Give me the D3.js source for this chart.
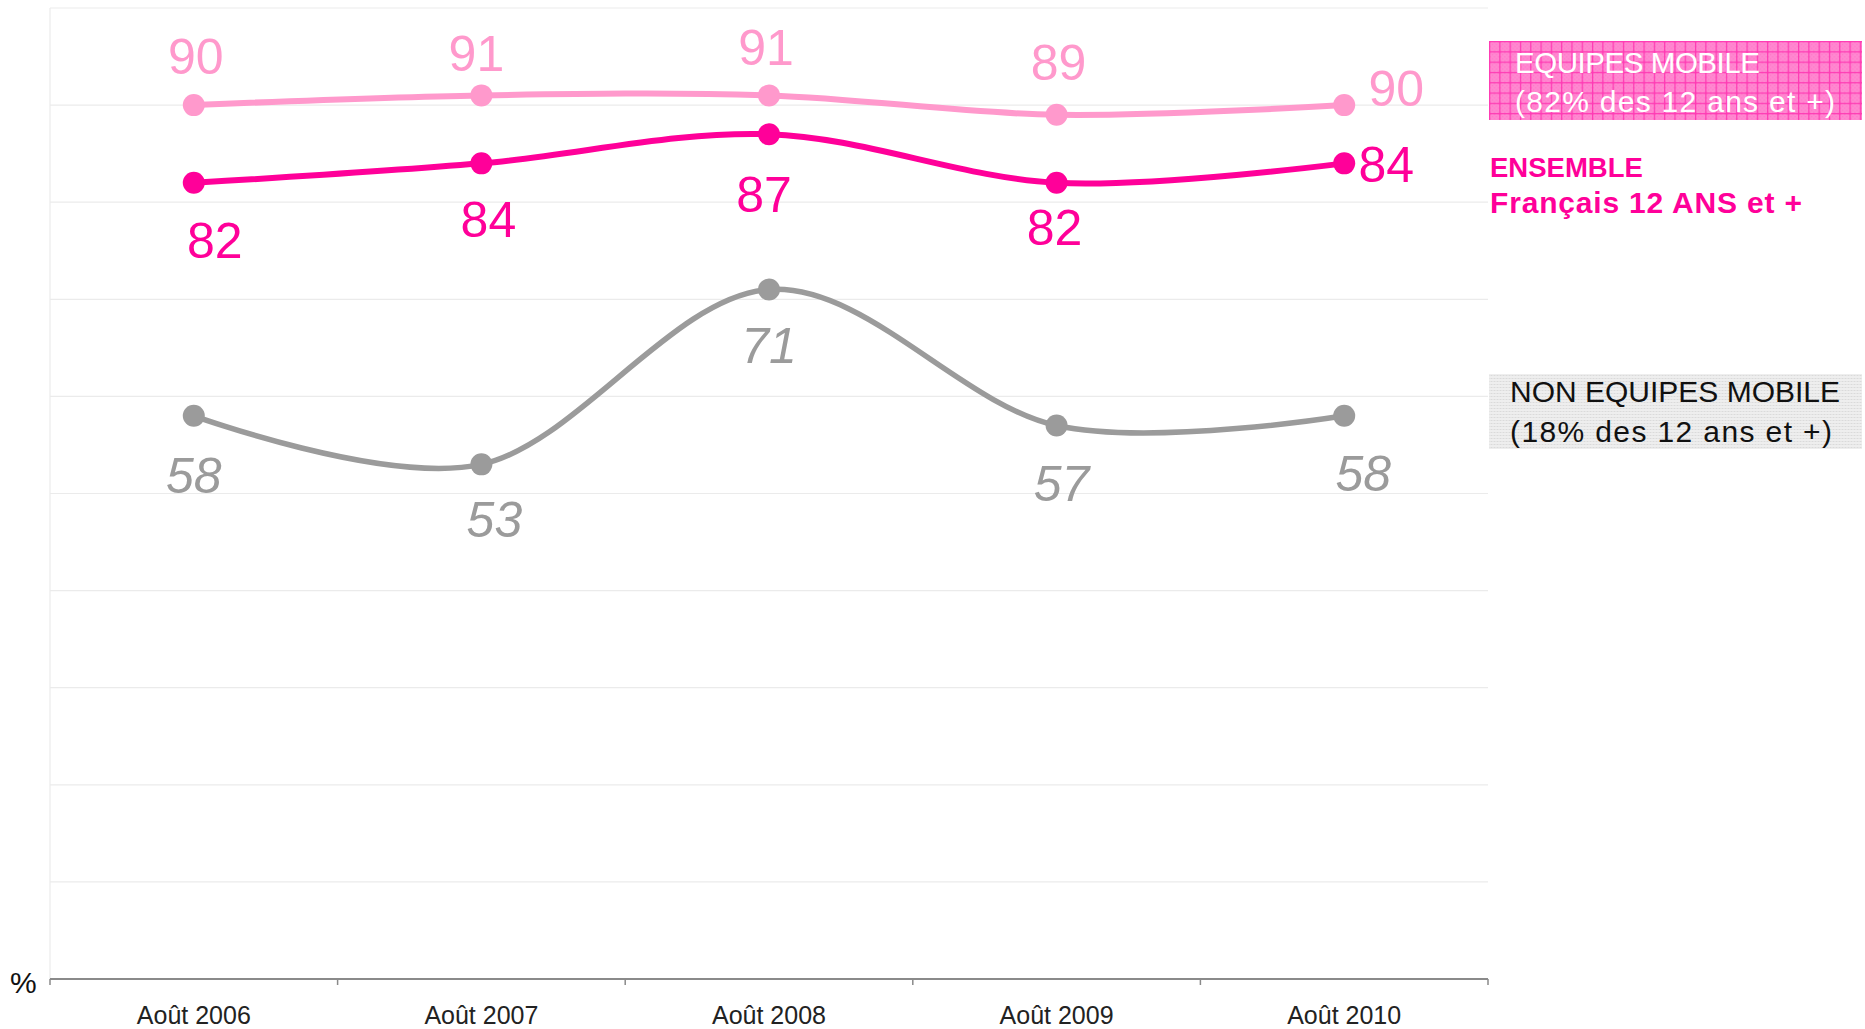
<!DOCTYPE html>
<html>
<head>
<meta charset="utf-8">
<script src="https://cdn.jsdelivr.net/npm/d3@7"></script>
<style>
  html, body { margin: 0; padding: 0; background: #fff; }
  svg { display: block; }
  text { font-family: "Liberation Sans", Arial, sans-serif; }
</style>
</head>
<body>
<svg id="chart" width="1865" height="1029"></svg>
<script>
// ---- Data ----
const categories = ["Août 2006", "Août 2007", "Août 2008", "Août 2009", "Août 2010"];
const equipesMobile = [90, 91, 91, 89, 90];
const ensemble = [82, 84, 87, 82, 84];
const nonEquipes = [58, 53, 71, 57, 58];
const yTicks = [0, 10, 20, 30, 40, 50, 60, 70, 80, 90, 100];

// ---- Label placement (style: offsets from each point) ----
const equipesLabelOffsets = [[2, -31], [-5, -24], [-3, -30], [2, -35], [52, 1]];
const ensembleLabelOffsets = [[21, 75], [7, 74], [-5, 78], [-2, 62], [42, 19]];
const nonLabelOffsets = [[0, 77], [13, 73], [0, 73], [5, 75], [19, 75]];

const svg = d3.select("#chart");
const margin = { left: 50, right: 377, top: 8, bottom: 50 };
const W = 1865, H = 1029;
const x0 = margin.left, x1 = W - margin.right; // 50 .. 1488
const yTop = margin.top, yBot = 979;

const x = d3.scaleBand().domain(categories).range([x0, x1]).paddingInner(0).paddingOuter(0);
const xc = c => x(c) + x.bandwidth() / 2;
const y = d3.scaleLinear().domain([0, 100]).range([yBot, yTop]);

// ---- Patterns for legend boxes ----
const defs = svg.append("defs");
const pp = defs.append("pattern").attr("id", "pinkGrid").attr("patternUnits", "userSpaceOnUse")
  .attr("width", 10.3).attr("height", 10.3).attr("x", 1489).attr("y", 41);
pp.append("rect").attr("width", 10.3).attr("height", 10.3).attr("fill", "#ff88d0");
for (let i = 0; i < 5; i++) for (let j = 0; j < 5; j++) {
  if ((i + j) % 2 === 0) pp.append("rect").attr("x", 1 + i * 2).attr("y", 1 + j * 2).attr("width", 1).attr("height", 1).attr("fill", "#ff6cc4");
}
pp.append("rect").attr("x", 0).attr("y", 0).attr("width", 10.3).attr("height", 1.2).attr("fill", "#ff3ab4");
pp.append("rect").attr("x", 0).attr("y", 0).attr("width", 1.2).attr("height", 10.3).attr("fill", "#ff3ab4");

const gp = defs.append("pattern").attr("id", "grayDots").attr("patternUnits", "userSpaceOnUse")
  .attr("width", 3).attr("height", 3);
gp.append("rect").attr("width", 3).attr("height", 3).attr("fill", "#eeeeee");
gp.append("rect").attr("x", 0).attr("y", 0).attr("width", 1).attr("height", 1).attr("fill", "#d2d2d2");
gp.append("rect").attr("x", 0).attr("y", 0).attr("width", 3).attr("height", 0.6).attr("fill", "#e0e0e0");

// ---- Gridlines ----
svg.append("g").selectAll("line").data(yTicks.filter(d => d > 0)).join("line")
  .attr("x1", x0).attr("x2", x1)
  .attr("y1", d => y(d)).attr("y2", d => y(d))
  .attr("stroke", "#ebebeb").attr("stroke-width", 1.2);
// left border
svg.append("line").attr("x1", x0).attr("x2", x0).attr("y1", yTop).attr("y2", yBot)
  .attr("stroke", "#ebebeb").attr("stroke-width", 1.2);

// ---- X axis ----
const axisG = svg.append("g");
axisG.append("line").attr("x1", x0).attr("x2", x1).attr("y1", yBot).attr("y2", yBot)
  .attr("stroke", "#8a8a8a").attr("stroke-width", 2.2);
const boundaries = categories.map(c => x(c)).concat([x(categories[categories.length - 1]) + x.bandwidth()]);
axisG.selectAll("line.tick").data(boundaries).join("line").attr("class", "tick")
  .attr("x1", d => d).attr("x2", d => d).attr("y1", yBot).attr("y2", yBot + 6)
  .attr("stroke", "#8a8a8a").attr("stroke-width", 1.5);
axisG.selectAll("text.lbl").data(categories).join("text").attr("class", "lbl")
  .attr("x", d => xc(d)).attr("y", 1024)
  .attr("text-anchor", "middle").attr("font-size", 25).attr("fill", "#222")
  .text(d => d);
svg.append("text").attr("x", 10).attr("y", 993).attr("font-size", 30).attr("fill", "#111").text("%");

// ---- Series ----
const series = [
  { values: nonEquipes, color: "#9b9b9b", width: 5.5, offsets: nonLabelOffsets, italic: true },
  { values: equipesMobile, color: "#ff99cc", width: 6, offsets: equipesLabelOffsets, italic: false },
  { values: ensemble, color: "#ff0099", width: 6, offsets: ensembleLabelOffsets, italic: false }
];

const line = d3.line().x((d, i) => xc(categories[i])).y(d => y(d)).curve(d3.curveCardinal.tension(0));

series.forEach(s => {
  const g = svg.append("g");
  g.append("path").datum(s.values).attr("d", line)
    .attr("fill", "none").attr("stroke", s.color).attr("stroke-width", s.width)
    .attr("stroke-linejoin", "round");
  g.selectAll("circle").data(s.values).join("circle")
    .attr("cx", (d, i) => xc(categories[i])).attr("cy", d => y(d)).attr("r", 11)
    .attr("fill", s.color);
  g.selectAll("text").data(s.values).join("text")
    .attr("x", (d, i) => xc(categories[i]) + s.offsets[i][0])
    .attr("y", (d, i) => y(d) + s.offsets[i][1])
    .attr("text-anchor", "middle").attr("font-size", 50)
    .attr("font-style", s.italic ? "italic" : "normal")
    .attr("fill", s.color)
    .text(d => d);
});

// ---- Legend ----
const leg = svg.append("g");
function legText(txt, xPos, yPos, size, fill, len, bold) {
  const t = leg.append("text").attr("x", xPos).attr("y", yPos).attr("font-size", size)
    .attr("font-weight", bold ? "bold" : "normal").attr("fill", fill).text(txt);
  if (len) t.attr("textLength", len).attr("lengthAdjust", "spacing");
}
leg.append("rect").attr("x", 1489).attr("y", 41).attr("width", 373).attr("height", 79).attr("fill", "url(#pinkGrid)");
legText("EQUIPES MOBILE", 1515, 73, 29.5, "#ffffff", 245, false);
legText("(82% des 12 ans et +)", 1515, 112, 30, "#ffffff", 320, false);

legText("ENSEMBLE", 1490, 177, 27.5, "#ff0099", null, true);
legText("Français 12 ANS et +", 1490, 213, 30, "#ff0099", 312, true);

leg.append("rect").attr("x", 1489).attr("y", 374).attr("width", 373).attr("height", 75).attr("fill", "url(#grayDots)");
legText("NON EQUIPES MOBILE", 1510, 402, 30, "#111", 330, false);
legText("(18% des 12 ans et +)", 1510, 442, 30, "#111", 322, false);
</script>
</body>
</html>
